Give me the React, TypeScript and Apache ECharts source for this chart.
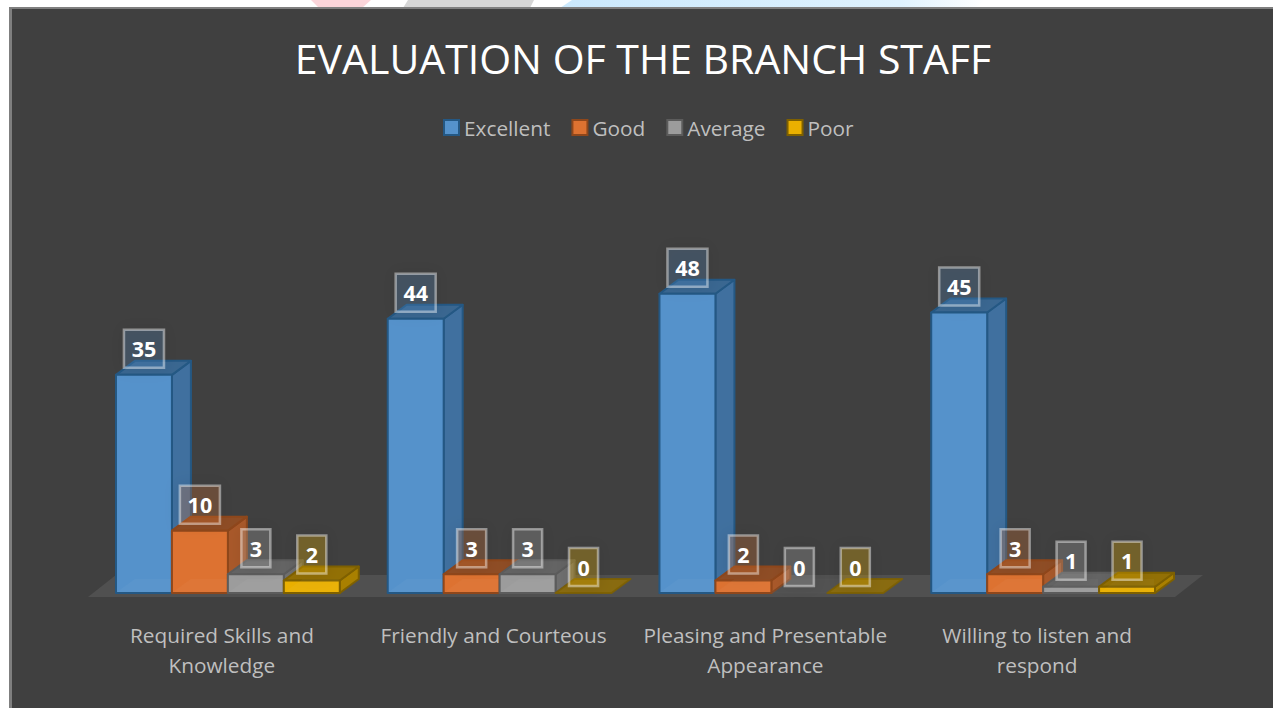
import React, { useEffect, useRef } from "react";
import * as echarts from "echarts";

const titleText = "EVALUATION OF THE BRANCH STAFF";
const categories = [
  "Required Skills and\nKnowledge",
  "Friendly and Courteous",
  "Pleasing and Presentable\nAppearance",
  "Willing to listen and\nrespond",
];
const seriesNames = ["Excellent", "Good", "Average", "Poor"];
const excellent = [35, 44, 48, 45];
const good = [10, 3, 2, 3];
const average = [3, 3, 0, 1];
const poor = [2, 0, 0, 1];
const seriesValues = [excellent, good, average, poor];

const palettes = [
  { front: "#5592cb", side: "#40709f", top: "#3a6791", line: "#245884", box: "rgba(85,146,203,0.22)" },
  { front: "#dd7231", side: "#a9592a", top: "#8f4d25", line: "#8f471b", box: "rgba(221,114,49,0.25)" },
  { front: "#9c9c9c", side: "#6f6f6f", top: "#646464", line: "#5c5c5c", box: "rgba(190,190,190,0.22)" },
  { front: "#eab000", side: "#a98000", top: "#937005", line: "#7e6000", box: "rgba(234,176,0,0.28)" },
];
const font = "'Open Sans', 'Noto Sans', sans-serif";

function makeRenderItem(si: number) {
  const p = palettes[si];
  return (params: any, api: any) => {
    const cat = api.value(0);
    const val = api.value(1);
    const band = api.size([1, 0])[0];
    const w = (band * 56) / 272;
    const dx = (band * 19) / 272;
    const dy = 14;
    const [cx, base] = api.coord([cat, 0]);
    const top = api.coord([cat, val])[1];
    const x0 = cx + 6 + (si - 2) * w;
    const x1 = x0 + w;
    const edge = { stroke: p.line, lineWidth: 2, lineJoin: "round" };
    const flat = val === 0;
    const children: any[] = [
      {
        type: "polygon",
        shape: { points: [[x1, top], [x1 + dx, top - dy], [x1 + dx, base - dy], [x1, base]] },
        style: { fill: p.side, ...edge, opacity: flat ? 0 : 1 },
      },
      {
        type: "polygon",
        shape: { points: [[x0, top], [x0 + dx, top - dy], [x1 + dx, top - dy], [x1, top]] },
        style: {
          fill: p.top,
          ...edge,
          opacity: flat ? (si === 2 ? 0.12 : 0.85) : 1,
        },
      },
    ];
    if (!flat) {
      children.push(
        {
          type: "rect",
          shape: { x: x0, y: top, width: w, height: base - top },
          style: { fill: p.front, ...edge },
        },
        {
          type: "polygon",
          shape: {
            points: [[x0 + 1, base - 1], [x0 + dx, base - dy], [x1 - 1, base - dy], [x1 - 1, base - 1]],
          },
          style: { fill: "rgba(255,255,255,0.03)" },
        }
      );
    }
    const label = String(val);
    const bw = label.length > 1 ? 40 : 29;
    const bh = 38;
    const bx = x0 + w / 2;
    const by = top - 26;
    children.push(
      {
        type: "rect",
        z2: 100,
        shape: { x: bx - bw / 2, y: by - bh / 2, width: bw, height: bh },
        style: {
          fill: p.box,
          stroke: "rgba(255,255,255,0.42)",
          lineWidth: 2.5,
          shadowBlur: 14,
          shadowColor: "rgba(0,0,0,0.25)",
        },
      },
      {
        type: "text",
        z2: 101,
        style: {
          x: bx,
          y: by,
          text: label,
          fill: "#ffffff",
          font: `bold 21.5px ${font}`,
          align: "center",
          verticalAlign: "middle",
        },
      }
    );
    return { type: "group", children };
  };
}

function renderFloor(params: any, api: any) {
  const band = api.size([1, 0])[0];
  const [x, base] = api.coord([0, 0]);
  const last = api.coord([categories.length - 1, 0])[0];
  const left = x - (band * 134) / 272;
  const right = last + (band * 138) / 272;
  const skew = (band * 28) / 272;
  return {
    type: "polygon",
    silent: true,
    z2: -1,
    shape: {
      points: [
        [left, base + 4],
        [left + skew, base - 18],
        [right + skew, base - 18],
        [right, base + 4],
      ],
    },
    style: { fill: "#505050" },
  };
}

export default function App() {
  const ref = useRef<HTMLDivElement>(null);
  useEffect(() => {
    const chart = echarts.init(ref.current!, undefined, { renderer: "svg" });
    chart.setOption({
      animation: false,
      backgroundColor: "#ffffff",
      graphic: [
        {
          type: "polygon",
          z: -10,
          shape: { points: [[311, 0], [371, 0], [362, 8], [319, 8]] },
          style: { fill: "#fbd5da" },
        },
        {
          type: "polygon",
          z: -10,
          shape: { points: [[408, 0], [534, 0], [530, 8], [403, 8]] },
          style: { fill: "#d6d6d6" },
        },
        {
          type: "polygon",
          z: -10,
          shape: { points: [[572, 0], [985, 0], [975, 8], [560, 8]] },
          style: {
            fill: {
              type: "linear", x: 0, y: 0, x2: 1, y2: 0,
              colorStops: [
                { offset: 0, color: "#cbe9fd" },
                { offset: 0.8, color: "#dff2fe" },
                { offset: 1, color: "#ffffff" },
              ],
            },
          },
        },
        {
          type: "rect",
          z: -9,
          shape: { x: 9, y: 7, width: 1270, height: 710 },
          style: { fill: "#7f7f7f" },
        },
        {
          type: "rect",
          z: -8,
          shape: { x: 12, y: 9, width: 1270, height: 710 },
          style: { fill: "#404040" },
        },
      ],
      title: {
        text: titleText,
        left: 638,
        top: 32,
        textAlign: "center",
        textStyle: { color: "#ffffff", fontFamily: font, fontSize: 41, fontWeight: "normal" },
      },
      legend: {
        data: seriesNames,
        top: 112,
        left: 438,
        icon: "rect",
        itemWidth: 15,
        itemHeight: 15,
        itemGap: 21,
        selectedMode: false,
        textStyle: { color: "#bfbfbf", fontFamily: font, fontSize: 20.8 },
      },
      grid: { left: 86, right: 100, top: 219, bottom: 115 },
      xAxis: {
        type: "category",
        data: categories,
        axisLine: { show: false },
        axisTick: { show: false },
        splitLine: { show: false },
        axisLabel: {
          color: "#bfbfbf",
          fontFamily: font,
          fontSize: 20.8,
          lineHeight: 30,
          margin: 27,
          interval: 0,
        },
      },
      yAxis: { type: "value", min: 0, max: 60, show: false },
      series: [
        {
          type: "custom",
          name: "floor",
          silent: true,
          z: 1,
          data: [[0, 0]],
          encode: { x: 0, y: 1 },
          renderItem: renderFloor,
        },
        ...seriesNames.map((name, si) => ({
          type: "custom",
          name,
          z: 2,
          silent: true,
          itemStyle: { color: palettes[si].front, borderColor: palettes[si].line, borderWidth: 2 },
          encode: { x: 0, y: 1 },
          data: seriesValues[si].map((v, i) => [i, v]),
          renderItem: makeRenderItem(si),
        })),
      ],
    });
    return () => chart.dispose();
  }, []);
  return (
    <div
      ref={ref}
      style={{ position: "fixed", left: 0, top: 0, width: 1273, height: 708 }}
    />
  );
}
